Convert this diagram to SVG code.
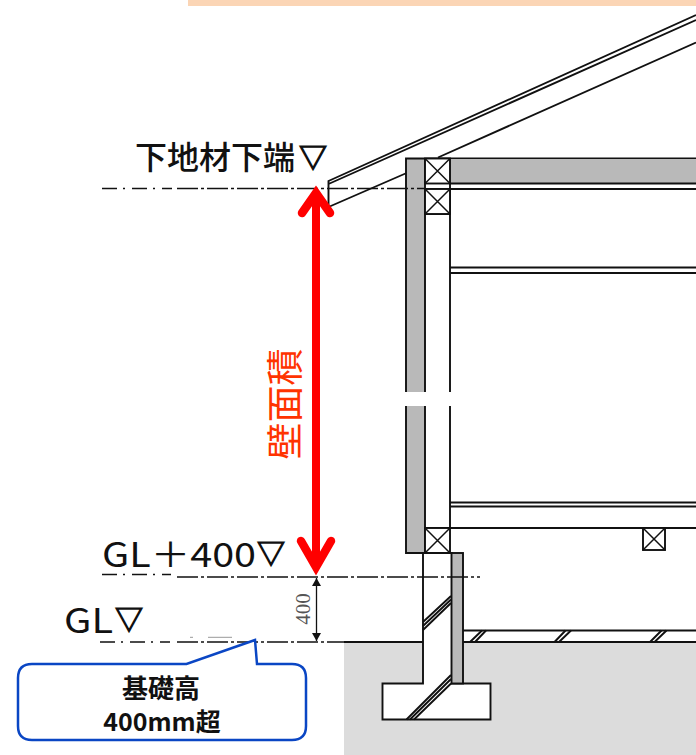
<svg xmlns="http://www.w3.org/2000/svg" width="696" height="755" viewBox="0 0 696 755">
<style>
.l{stroke:#111;stroke-width:1.9;fill:none}
.f{stroke:#111;stroke-width:1.9;fill:#b9b9b9}
.g{fill:#b9b9b9}
.w{stroke:#111;stroke-width:1.9;fill:#fff}
.t{stroke:#111;stroke-width:1.5;fill:none}
.dl{stroke:#111;stroke-width:1.7;fill:none;stroke-dasharray:21 3 3 3}
.dl2{stroke:#111;stroke-width:1.7;fill:none;stroke-dasharray:15 6 2 7}
.j{font-family:"Noto Sans CJK JP","Noto Sans",sans-serif;fill:#111}
.m{font-weight:500}
.v{font-size:28px;stroke:#111;stroke-width:1.200}
.b{font-weight:700;text-anchor:middle}
</style>
<defs>
<marker id="sa" viewBox="0 0 8 14" refX="8" refY="7" markerWidth="8" markerHeight="14" orient="auto-start-reverse" markerUnits="userSpaceOnUse"><path d="M0 2.500L8 7L0 11.500Z" fill="#111"/></marker>
</defs>
<rect id="top-band" x="188" y="0" width="508" height="6" fill="#fbd5b5"/>
<rect id="ground" x="344" y="642" width="352" height="113" fill="#dcdcdc"/>

<g id="roof">
<path class="l" d="M328.500 207V181L696 15M328.500 184L696 20"/>
<path class="l" d="M328.500 207L425 165M438 157.500L696 42.500"/>
</g>

<g id="upper-structure">
<rect class="g" x="406" y="158.500" width="19" height="233.500"/>
<path d="M406 392V158.500H696M425 392V158.500M450 392V158.500" class="l"/>
<rect class="g" x="450" y="159" width="246" height="24.500"/>
<path class="l" d="M450 183.500H696M425 189H696M425 214H450M450 267.500H696M450 273H696"/>
<g id="post-a"><rect class="w" x="425" y="158.500" width="25" height="25"/><path class="t" d="M425 158.500L450 183.500M450 158.500L425 183.500"/></g>
<g id="post-b"><rect class="w" x="425" y="189" width="25" height="25"/><path class="t" d="M425 189L450 214M450 189L425 214"/></g>
</g>

<g id="lower-structure">
<rect class="g" x="406" y="406" width="19" height="147"/>
<path class="l" d="M406 406V553H425M425 406V553M450 406V528"/>
<path class="l" d="M450 502.500H696M450 506.500H696M425 528H696"/>
<g id="post-c"><rect class="w" x="425" y="528" width="25" height="25"/><path class="t" d="M425 528L450 553M450 528L425 553"/></g>
<g id="post-d"><rect class="w" x="643" y="528" width="22" height="22"/><path class="t" d="M643 528L665 550M665 528L643 550"/></g>
</g>

<g id="foundation">
<path class="w" d="M423 553H452V683.500H490.500V719.500H382.500V683.500H423Z"/>
<rect class="f" x="451.500" y="553" width="11.500" height="130.500"/>
<path class="l" stroke-width="1.500" d="M423 622L451 596M423 626L451 599.500M423 630L451 603"/>
<path class="l" d="M451 675L406.500 719.500M451 679L410 719.500M451 683.500L414 719.500"/>
</g>

<g id="slab">
<path class="l" d="M463 630.500H696M344 642H423M463 642H696"/>
<path class="l" d="M470 642L482 630.500M475 642L486 630.500M554.500 642L565.500 630.500M559 642L571 630.500M650 642L661.500 630.500M654.500 642L666.500 630.500"/>
</g>

<g id="connectors">
<path class="dl" d="M177 188.500H424"/>
<path class="dl2" d="M102 188.500H172"/>
<path class="dl" d="M177 577H480"/>
<path class="dl2" d="M102 574.500H171"/>
<path class="dl2" d="M100 642H170"/>
<path class="dl" d="M177 642H344"/>
<path d="M190 637.300H193M208 637.300H232" stroke="#999" stroke-width="1" fill="none"/>
<path d="M316.500 578V641" stroke="#111" stroke-width="1.300" fill="none" marker-start="url(#sa)" marker-end="url(#sa)"/>
<g id="area-arrow" fill="none" stroke="#f00" stroke-width="8">
<path d="M316 195V566"/>
<path stroke-linecap="round" stroke-width="8.500" d="M302 213L316 193L330 213"/>
<path stroke-linecap="round" stroke-width="8.500" d="M301 541L316 567L331 541"/>
</g>
</g>

<g id="labels">
<text class="j m" x="135" y="169" font-size="32">下地材下端<tspan class="v" x="299" y="168">▽</tspan></text>
<text class="j" x="102" y="567" font-size="34"><tspan textLength="154" lengthAdjust="spacingAndGlyphs">GL＋400</tspan><tspan class="v" x="257" y="564">▽</tspan></text>
<text class="j" x="64" y="633" font-size="34"><tspan textLength="49" lengthAdjust="spacingAndGlyphs">GL</tspan><tspan class="v" x="115" y="630">▽</tspan></text>
<text id="area-label" x="0" y="0" transform="translate(299 404) rotate(-90)" text-anchor="middle" font-family="Noto Sans CJK JP,sans-serif" font-size="37" font-weight="400" fill="#ff3300">壁面積</text>
<text x="0" y="0" transform="translate(310 609) rotate(-90)" text-anchor="middle" font-family="Liberation Serif,serif" font-size="21" fill="#555">400</text>
</g>

<g id="callout">
<path d="M32 664H186.500L255 640L257 664H292Q306 664 306 678V726Q306 740 292 740H32Q18 740 18 726V678Q18 664 32 664Z" fill="#fff" stroke="#0a46c4" stroke-width="2.500"/>
<text class="j b" x="161" y="698" font-size="26">基礎高</text>
<text class="j b" x="162" y="731" font-size="25">400mm超</text>
</g>
</svg>
